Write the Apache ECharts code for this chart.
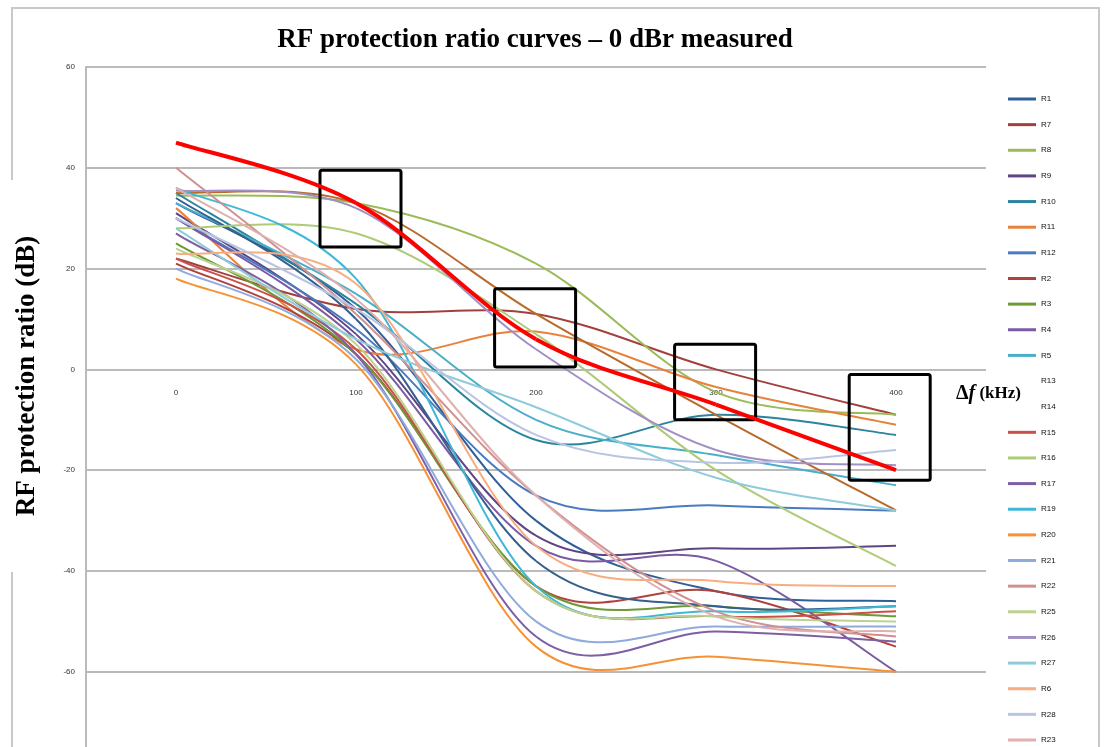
<!DOCTYPE html>
<html><head><meta charset="utf-8">
<script src="https://cdn.jsdelivr.net/npm/echarts@6/dist/echarts.min.js"></script>
<style>html,body{margin:0;padding:0;background:#fff}#c{width:1105px;height:747px}</style>
</head><body><div id="c"></div>
<script>
// ---- data ----
const freqs = [0, 100, 200, 300, 400];            // Δf (kHz)
const xTickLabels = ['0', '100', '200', '300', '400'];
const yMin = -80, yMax = 60, yStep = 20;

const seriesNames = ['R1','R7','R8','R9','R10','R11','R12','R2','R3','R4','R5','R13','R14',
  'R15','R16','R17','R19','R20','R21','R22','R25','R26','R27','R6','R28','R23'];

const R1  = [33, 12, -30, -44, -46];
const R7  = [22, 12, 11, 0, -9];
const R8  = [34.5, 33, 21, -4.5, -9];
const R9  = [31, 7, -33, -35.5, -35];
const R10 = [35, 13, -14, -9, -13];
const R11 = [32, 4, 7.5, -3.5, -11];
const R12 = [30, 8, -25, -27, -28];
const R2  = [21, 3, -43, -44, -55];
const R3  = [25, 3, -43, -47, -49];
const R4  = [30, 6, -35, -38, -60];
const R5  = [33, 15, -10, -17, -23];
const R13 = [34, 10, -38, -47, -47];
const R14 = [35, 33, 11, -9, -28];
const R15 = [22, 4, -44, -49, -48];
const R16 = [28, 27, 7, -20, -39];
const R17 = [27, 3, -53, -52, -54];
const R19 = [36, 18, -43, -48, -47];
const R20 = [18, 1, -55, -57, -60];
const R21 = [20, 2, -50, -51, -51];
const R22 = [40, 11, -25, -48, -53];
const R25 = [24, 5, -44, -49, -50];
const R26 = [35.5, 32, 4, -16, -19];
const R27 = [28, 6, -7.5, -21.5, -28];
const R6  = [23, 17, -35, -42, -43];
const R28 = [30, 12, -13, -18.5, -16];
const R23 = [36, 14, -25, -49, -52];
const refCurve = [45, 33, 6, -7, -20];   // thick red reference curve

// highlighted boxes (kHz from, kHz to, dB top, dB bottom)
const boxFreqFrom = [80, 177, 277, 374];
const boxFreqTo   = [125, 222, 322, 419];
const boxTop      = [39.5, 16, 5, -1];
const boxBottom   = [24.3, 0.5, -10, -22];

const seriesValues = {R1,R7,R8,R9,R10,R11,R12,R2,R3,R4,R5,R13,R14,R15,R16,R17,R19,R20,R21,R22,R25,R26,R27,R6,R28,R23};

// ---- styles ----
const colors = {
  R1:'#2F5F98', R7:'#A3403D', R8:'#9BBB59', R9:'#5E4585', R10:'#2B849E', R11:'#E8823A',
  R12:'#4A7BBF', R2:'#B0413E', R3:'#6E9A36', R4:'#7A5AA3', R5:'#4AAFC9', R13:'#34608F',
  R14:'#B86A2A', R15:'#C9504B', R16:'#AECB78', R17:'#7D5FA6', R19:'#3FB8D8', R20:'#F79234',
  R21:'#8FAADC', R22:'#D09090', R25:'#BBD38F', R26:'#A190C4', R27:'#8ECBDB', R6:'#F8AD80',
  R28:'#B8C5E2', R23:'#E0B0AE'
};

function curveRenderer(width) {
  return function (params, api) {
    const i = params.dataIndexInside, n = params.dataInsideLength;
    if (i >= n - 1) return null;
    const P = k => api.coord([api.value(0, k), api.value(1, k)]);
    const p0 = P(Math.max(i - 1, 0)), p1 = P(i), p2 = P(i + 1), p3 = P(Math.min(i + 2, n - 1));
    return {
      type: 'bezierCurve',
      shape: {
        x1: p1[0], y1: p1[1], x2: p2[0], y2: p2[1],
        cpx1: p1[0] + (p2[0] - p0[0]) / 6, cpy1: p1[1] + (p2[1] - p0[1]) / 6,
        cpx2: p2[0] - (p3[0] - p1[0]) / 6, cpy2: p2[1] - (p3[1] - p1[1]) / 6
      },
      style: { stroke: api.visual('color'), lineWidth: width, fill: 'none' }
    };
  };
}

function toPoints(vals) { return freqs.map((f, k) => [f, vals[k]]); }

const series = seriesNames.map(name => ({
  name, type: 'custom', xAxisIndex: 1, yAxisIndex: 0, silent: true, clip: false,
  itemStyle: { color: colors[name] },
  encode: { x: 0, y: 1 },
  renderItem: curveRenderer(2),
  data: toPoints(seriesValues[name])
}));

series.push({
  name: 'ref', type: 'custom', xAxisIndex: 1, yAxisIndex: 0, silent: true, z: 5, clip: false,
  itemStyle: { color: '#FF0000' }, encode: { x: 0, y: 1 },
  renderItem: curveRenderer(4), data: toPoints(refCurve)
});

series.push({
  name: 'boxes', type: 'custom', xAxisIndex: 1, yAxisIndex: 0, silent: true, z: 4, clip: false,
  encode: { x: [0, 1], y: [2, 3] },
  data: boxFreqFrom.map((f, k) => [f, boxFreqTo[k], boxTop[k], boxBottom[k]]),
  renderItem: function (params, api) {
    const a = api.coord([api.value(0), api.value(2)]);
    const b = api.coord([api.value(1), api.value(3)]);
    return { type: 'rect', shape: { x: a[0], y: a[1], width: b[0] - a[0], height: b[1] - a[1], r: 2 },
      style: { fill: 'none', stroke: '#000', lineWidth: 3 } };
  }
});

const gridColor = '#BABABA';
const chart = echarts.init(document.getElementById('c'));
chart.setOption({
  animation: false,
  backgroundColor: '#fff',
  grid: { left: 86, right: 119, top: 67, bottom: -25.6, containLabel: false, outerBoundsMode: 'none' },
  xAxis: [
    { type: 'category', data: xTickLabels, boundaryGap: true,
      axisLine: { show: false }, axisTick: { show: false }, splitLine: { show: false },
      // labels sit just under the 0 dB line, as in the source
      axisLabel: { fontSize: 8, color: '#333', margin: -384, fontFamily: 'Liberation Sans', verticalAlign: 'top' } },
    { type: 'value', min: -50, max: 450, show: false, axisLine: { onZero: false } }
  ],
  yAxis: {
    type: 'value', min: yMin, max: yMax, interval: yStep,
    axisLine: { show: true, onZero: false, lineStyle: { color: gridColor, width: 2 } },
    axisTick: { show: false },
    axisLabel: { fontSize: 8, color: '#333', margin: 11, fontFamily: 'Liberation Sans' },
    splitLine: { lineStyle: { color: gridColor, width: 2 } }
  },
  legend: {
    orient: 'vertical', left: 1008, top: 94, height: 660, padding: 0,
    icon: 'rect', itemWidth: 28, itemHeight: 3, itemGap: 15.64,
    data: seriesNames,
    textStyle: { fontSize: 8, lineHeight: 10, color: '#111', fontFamily: 'Liberation Sans' }
  },
  graphic: [
    { type: 'rect', z: 100, silent: true, shape: { x: 12, y: 8, width: 1087, height: 800 },
      style: { fill: 'none', stroke: '#C8C8C8', lineWidth: 2 } },
    { type: 'rect', z: 101, silent: true, shape: { x: 0, y: 180, width: 52, height: 392 },
      style: { fill: '#fff' } },
    { type: 'rect', z: 101, silent: true, shape: { x: 945, y: 372, width: 93, height: 44 },
      style: { fill: '#fff' } },
    { type: 'text', z: 102, silent: true, x: 535, y: 40,
      style: { text: 'RF protection ratio curves \u2013 0 dBr measured', align: 'center', verticalAlign: 'middle',
        font: 'bold 27px "Liberation Serif"', fill: '#000' } },
    { type: 'text', z: 102, silent: true, x: 27, y: 376, rotation: Math.PI / 2,
      style: { text: 'RF protection ratio (dB)', align: 'center', verticalAlign: 'middle',
        font: 'bold 27px "Liberation Serif"', fill: '#000' } },
    { type: 'text', z: 102, silent: true, x: 956, y: 394,
      style: { text: '{a|\u0394}{b|f}{c| (kHz)}', align: 'left', verticalAlign: 'middle',
        rich: {
          a: { fontFamily: 'Liberation Serif', fontWeight: 'bold', fontSize: 20, fill: '#000', color: '#000' },
          b: { fontFamily: 'Liberation Serif', fontWeight: 'bold', fontStyle: 'italic', fontSize: 20, fill: '#000', color: '#000' },
          c: { fontFamily: 'Liberation Serif', fontWeight: 'bold', fontSize: 17, fill: '#000', color: '#000' }
        } } }
  ],
  series
});
</script></body></html>
